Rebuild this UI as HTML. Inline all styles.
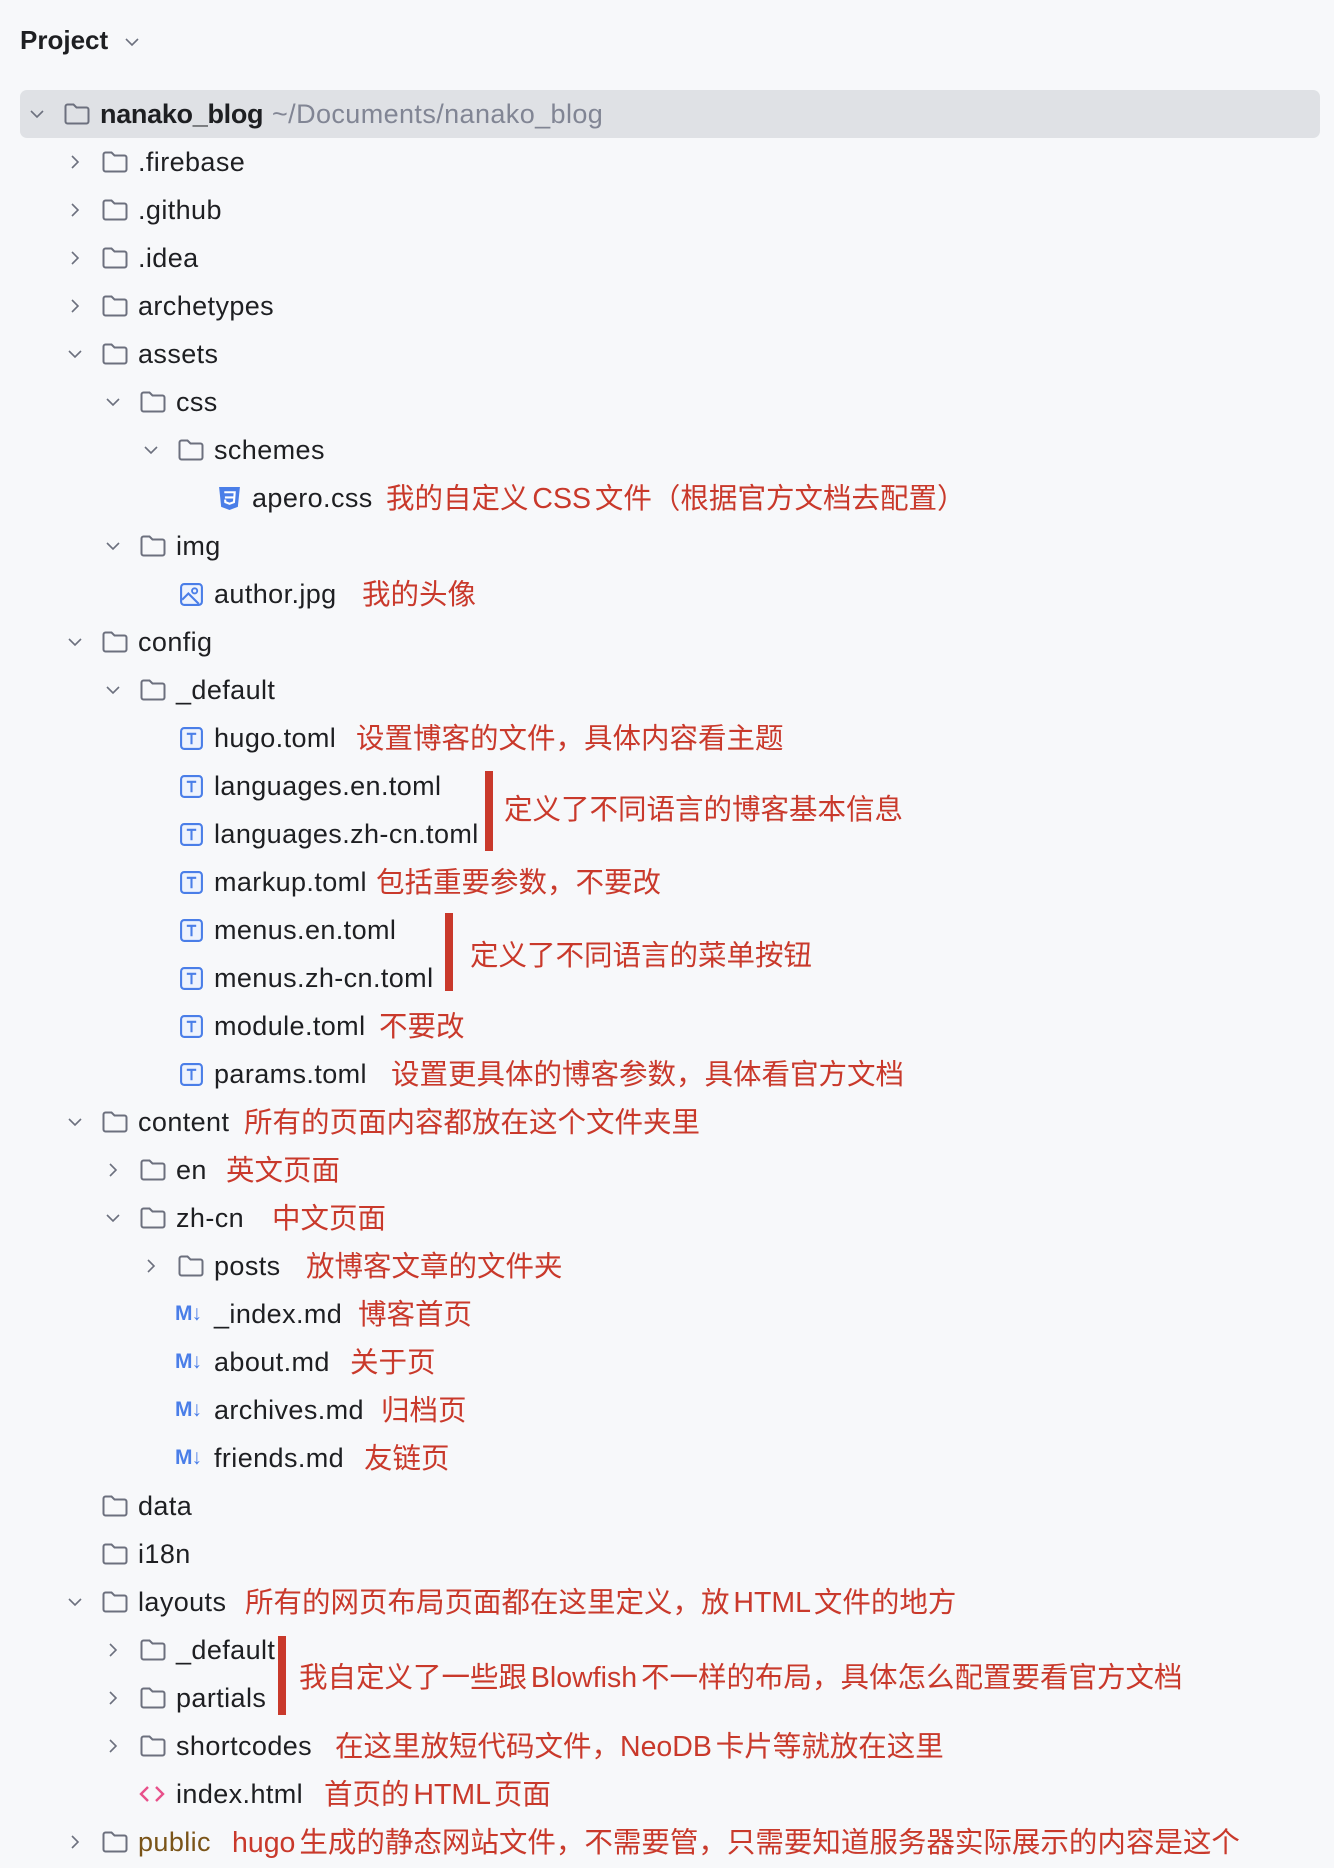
<!DOCTYPE html>
<html><head><meta charset="utf-8"><style>
html,body{margin:0;padding:0;background:#f7f8fa;}
body{width:1334px;height:1868px;position:relative;overflow:hidden;font-family:"Liberation Sans","Noto Sans CJK SC",sans-serif;color:#1e1f22;}
.r{position:absolute;left:0;height:48px;width:1334px;}
.r>*{position:absolute;}
.t{top:0;line-height:48px;font-size:27px;letter-spacing:0.4px;white-space:nowrap;}
.a{top:0;line-height:50px;font-size:28.5px;color:#c9392b;white-space:nowrap;word-spacing:-4px;font-family:"Liberation Sans","Noto Sans CJK SC",sans-serif;}
.ch{top:16px;width:16px;height:16px;}
.fo{top:12px;width:28px;height:24px;}
.fi{top:12px;width:25px;height:25px;}
.bar{position:absolute;background:#c9392b;width:8px;}
.md{top:0;line-height:48px;font-size:21px;font-weight:bold;color:#4a7ee8;letter-spacing:-1px;}
</style></head><body>
<svg width="0" height="0" style="position:absolute">
<defs>
<symbol id="fold" viewBox="0 0 28 24"><path d="M2.5 4.5a2 2 0 0 1 2-2h6l3 3h10a2 2 0 0 1 2 2v12a2 2 0 0 1-2 2h-19a2 2 0 0 1-2-2z" fill="none" stroke="#6c707e" stroke-width="2"/></symbol>
<symbol id="cr" viewBox="0 0 16 16"><path d="M5 2l6 6-6 6" fill="none" stroke="#6c707e" stroke-width="1.6"/></symbol>
<symbol id="cd" viewBox="0 0 16 16"><path d="M2 5l6 6 6-6" fill="none" stroke="#6c707e" stroke-width="1.6"/></symbol>
<symbol id="toml" viewBox="0 0 24 24"><rect x="2" y="2" width="20" height="20" rx="3" fill="#eef3fd" stroke="#4a7ee8" stroke-width="2"/><path d="M7.5 7.5h9M12 7.5v10" stroke="#4a7ee8" stroke-width="2"/></symbol>
<symbol id="css" viewBox="0 0 24 24"><path d="M2 1h20l-2 19L12 23l-8-3z" fill="#4a7ee8"/><path d="M7 6h10l-.7 9.5L12 17l-4-1.5-.2-2.5M7.6 11h8.8" fill="none" stroke="#fff" stroke-width="2"/></symbol>
<symbol id="img" viewBox="0 0 24 24"><rect x="2" y="2" width="20" height="20" rx="3" fill="#eef3fd" stroke="#4a7ee8" stroke-width="2"/><circle cx="15" cy="8.5" r="2.5" fill="none" stroke="#4a7ee8" stroke-width="1.8"/><path d="M3 17l6-6 10 10" fill="none" stroke="#4a7ee8" stroke-width="2"/></symbol>
<symbol id="html" viewBox="0 0 28 24"><path d="M10 5l-7 7 7 7M18 5l7 7-7 7" fill="none" stroke="#e8508a" stroke-width="2.4"/></symbol>
</defs></svg>

<div class="t" style="position:absolute;left:20px;top:16px;font-weight:bold;font-size:26px;letter-spacing:0;">Project</div>
<svg style="position:absolute;left:124px;top:34px" width="16" height="16"><use href="#cd"/></svg>

<div style="position:absolute;left:20px;top:90px;width:1300px;height:48px;background:#dfe1e5;border-radius:7px;"></div>

<div class="r" style="top:90px"><svg class="ch" style="left:29px"><use href="#cd"/></svg><svg class="fo" style="left:63px"><use href="#fold"/></svg><span class="t" style="left:100px;font-weight:bold;letter-spacing:-0.3px">nanako_blog</span><span class="t" style="left:272px;color:#818594">~/Documents/nanako_blog</span></div>
<div class="r" style="top:138px"><svg class="ch" style="left:67px"><use href="#cr"/></svg><svg class="fo" style="left:101px"><use href="#fold"/></svg><span class="t" style="left:138px">.firebase</span></div>
<div class="r" style="top:186px"><svg class="ch" style="left:67px"><use href="#cr"/></svg><svg class="fo" style="left:101px"><use href="#fold"/></svg><span class="t" style="left:138px">.github</span></div>
<div class="r" style="top:234px"><svg class="ch" style="left:67px"><use href="#cr"/></svg><svg class="fo" style="left:101px"><use href="#fold"/></svg><span class="t" style="left:138px">.idea</span></div>
<div class="r" style="top:282px"><svg class="ch" style="left:67px"><use href="#cr"/></svg><svg class="fo" style="left:101px"><use href="#fold"/></svg><span class="t" style="left:138px">archetypes</span></div>
<div class="r" style="top:330px"><svg class="ch" style="left:67px"><use href="#cd"/></svg><svg class="fo" style="left:101px"><use href="#fold"/></svg><span class="t" style="left:138px">assets</span></div>
<div class="r" style="top:378px"><svg class="ch" style="left:105px"><use href="#cd"/></svg><svg class="fo" style="left:139px"><use href="#fold"/></svg><span class="t" style="left:176px">css</span></div>
<div class="r" style="top:426px"><svg class="ch" style="left:143px"><use href="#cd"/></svg><svg class="fo" style="left:177px"><use href="#fold"/></svg><span class="t" style="left:214px">schemes</span></div>
<div class="r" style="top:474px"><svg class="fi" style="left:217px"><use href="#css"/></svg><span class="t" style="left:252px">apero.css</span><span class="a" style="left:386px">我的自定义 CSS 文件（根据官方文档去配置）</span></div>
<div class="r" style="top:522px"><svg class="ch" style="left:105px"><use href="#cd"/></svg><svg class="fo" style="left:139px"><use href="#fold"/></svg><span class="t" style="left:176px">img</span></div>
<div class="r" style="top:570px"><svg class="fi" style="left:179px"><use href="#img"/></svg><span class="t" style="left:214px">author.jpg</span><span class="a" style="left:362px">我的头像</span></div>
<div class="r" style="top:618px"><svg class="ch" style="left:67px"><use href="#cd"/></svg><svg class="fo" style="left:101px"><use href="#fold"/></svg><span class="t" style="left:138px">config</span></div>
<div class="r" style="top:666px"><svg class="ch" style="left:105px"><use href="#cd"/></svg><svg class="fo" style="left:139px"><use href="#fold"/></svg><span class="t" style="left:176px">_default</span></div>
<div class="r" style="top:714px"><svg class="fi" style="left:179px"><use href="#toml"/></svg><span class="t" style="left:214px">hugo.toml</span><span class="a" style="left:356px">设置博客的文件，具体内容看主题</span></div>
<div class="r" style="top:762px"><svg class="fi" style="left:179px"><use href="#toml"/></svg><span class="t" style="left:214px">languages.en.toml</span></div>
<div class="r" style="top:810px"><svg class="fi" style="left:179px"><use href="#toml"/></svg><span class="t" style="left:214px">languages.zh-cn.toml</span></div>
<div class="r" style="top:858px"><svg class="fi" style="left:179px"><use href="#toml"/></svg><span class="t" style="left:214px">markup.toml</span><span class="a" style="left:376px">包括重要参数，不要改</span></div>
<div class="r" style="top:906px"><svg class="fi" style="left:179px"><use href="#toml"/></svg><span class="t" style="left:214px">menus.en.toml</span></div>
<div class="r" style="top:954px"><svg class="fi" style="left:179px"><use href="#toml"/></svg><span class="t" style="left:214px">menus.zh-cn.toml</span></div>
<div class="r" style="top:1002px"><svg class="fi" style="left:179px"><use href="#toml"/></svg><span class="t" style="left:214px">module.toml</span><span class="a" style="left:379px">不要改</span></div>
<div class="r" style="top:1050px"><svg class="fi" style="left:179px"><use href="#toml"/></svg><span class="t" style="left:214px">params.toml</span><span class="a" style="left:391px">设置更具体的博客参数，具体看官方文档</span></div>
<div class="r" style="top:1098px"><svg class="ch" style="left:67px"><use href="#cd"/></svg><svg class="fo" style="left:101px"><use href="#fold"/></svg><span class="t" style="left:138px">content</span><span class="a" style="left:244px">所有的页面内容都放在这个文件夹里</span></div>
<div class="r" style="top:1146px"><svg class="ch" style="left:105px"><use href="#cr"/></svg><svg class="fo" style="left:139px"><use href="#fold"/></svg><span class="t" style="left:176px">en</span><span class="a" style="left:226px">英文页面</span></div>
<div class="r" style="top:1194px"><svg class="ch" style="left:105px"><use href="#cd"/></svg><svg class="fo" style="left:139px"><use href="#fold"/></svg><span class="t" style="left:176px">zh-cn</span><span class="a" style="left:272px">中文页面</span></div>
<div class="r" style="top:1242px"><svg class="ch" style="left:143px"><use href="#cr"/></svg><svg class="fo" style="left:177px"><use href="#fold"/></svg><span class="t" style="left:214px">posts</span><span class="a" style="left:306px">放博客文章的文件夹</span></div>
<div class="r" style="top:1290px"><span class="md" style="left:175px">M↓</span><span class="t" style="left:214px">_index.md</span><span class="a" style="left:358px">博客首页</span></div>
<div class="r" style="top:1338px"><span class="md" style="left:175px">M↓</span><span class="t" style="left:214px">about.md</span><span class="a" style="left:350px">关于页</span></div>
<div class="r" style="top:1386px"><span class="md" style="left:175px">M↓</span><span class="t" style="left:214px">archives.md</span><span class="a" style="left:381px">归档页</span></div>
<div class="r" style="top:1434px"><span class="md" style="left:175px">M↓</span><span class="t" style="left:214px">friends.md</span><span class="a" style="left:364px">友链页</span></div>
<div class="r" style="top:1482px"><svg class="fo" style="left:101px"><use href="#fold"/></svg><span class="t" style="left:138px">data</span></div>
<div class="r" style="top:1530px"><svg class="fo" style="left:101px"><use href="#fold"/></svg><span class="t" style="left:138px">i18n</span></div>
<div class="r" style="top:1578px"><svg class="ch" style="left:67px"><use href="#cd"/></svg><svg class="fo" style="left:101px"><use href="#fold"/></svg><span class="t" style="left:138px">layouts</span><span class="a" style="left:245px">所有的网页布局页面都在这里定义，放 HTML 文件的地方</span></div>
<div class="r" style="top:1626px"><svg class="ch" style="left:105px"><use href="#cr"/></svg><svg class="fo" style="left:139px"><use href="#fold"/></svg><span class="t" style="left:176px">_default</span></div>
<div class="r" style="top:1674px"><svg class="ch" style="left:105px"><use href="#cr"/></svg><svg class="fo" style="left:139px"><use href="#fold"/></svg><span class="t" style="left:176px">partials</span></div>
<div class="r" style="top:1722px"><svg class="ch" style="left:105px"><use href="#cr"/></svg><svg class="fo" style="left:139px"><use href="#fold"/></svg><span class="t" style="left:176px">shortcodes</span><span class="a" style="left:335px">在这里放短代码文件，NeoDB 卡片等就放在这里</span></div>
<div class="r" style="top:1770px"><svg class="fo" style="left:138px"><use href="#html"/></svg><span class="t" style="left:176px">index.html</span><span class="a" style="left:324px">首页的 HTML 页面</span></div>
<div class="r" style="top:1818px"><svg class="ch" style="left:67px"><use href="#cr"/></svg><svg class="fo" style="left:101px"><use href="#fold"/></svg><span class="t" style="left:138px;color:#7a5418">public</span><span class="a" style="left:232px">hugo 生成的静态网站文件，不需要管，只需要知道服务器实际展示的内容是这个</span></div>

<div class="bar" style="left:485px;top:771px;height:80px"></div>
<span class="a" style="position:absolute;left:504px;top:785px">定义了不同语言的博客基本信息</span>
<div class="bar" style="left:445px;top:913px;height:78px"></div>
<span class="a" style="position:absolute;left:470px;top:931px">定义了不同语言的菜单按钮</span>
<div class="bar" style="left:278px;top:1636px;height:79px"></div>
<span class="a" style="position:absolute;left:299px;top:1653px">我自定义了一些跟 Blowfish 不一样的布局，具体怎么配置要看官方文档</span>
</body></html>
